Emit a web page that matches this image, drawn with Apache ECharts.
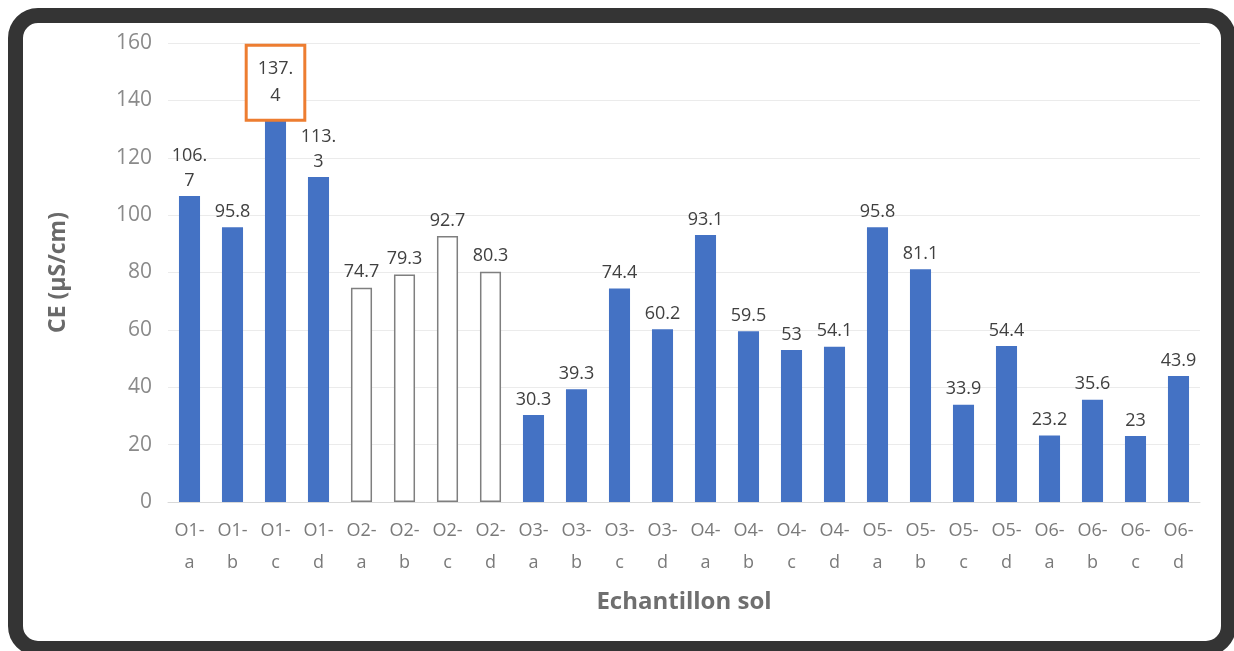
<!DOCTYPE html>
<html>
<head>
<meta charset="utf-8">
<script src="https://cdn.jsdelivr.net/npm/echarts@6/dist/echarts.min.js"></script>
<style>
  html, body { margin: 0; padding: 0; background: #fff; overflow: hidden; }
  #main { position: absolute; left: 0; top: 0; width: 1234px; height: 651px; }
  .frame {
    position: absolute; left: 8px; top: 8px; width: 1228px; height: 648px;
    box-sizing: border-box; border: 15px solid #343434; border-radius: 30px;
    pointer-events: none;
  }
</style>
</head>
<body>
<div id="main"></div>
<div class="frame"></div>
<script>
// samples
const categories = [
  'O1-a', 'O1-b', 'O1-c', 'O1-d', 'O2-a', 'O2-b', 'O2-c', 'O2-d',
  'O3-a', 'O3-b', 'O3-c', 'O3-d', 'O4-a', 'O4-b', 'O4-c', 'O4-d',
  'O5-a', 'O5-b', 'O5-c', 'O5-d', 'O6-a', 'O6-b', 'O6-c', 'O6-d'
];
// CE values (µS/cm)
const ceValues = [
  106.7, 95.8, 137.4, 113.3, 74.7, 79.3, 92.7, 80.3,
  30.3, 39.3, 74.4, 60.2, 93.1, 59.5, 53, 54.1,
  95.8, 81.1, 33.9, 54.4, 23.2, 35.6, 23, 43.9
];
const hollowIdx = [4, 5, 6, 7];   // O2 bars drawn empty
const boxedIdx = [2];             // label framed in orange
const yTicks = [0, 20, 40, 60, 80, 100, 120, 140, 160];

const font = "'Open Sans', 'Noto Sans', sans-serif";

const wrapLabel = (v) => {
  let s = String(v);
  return s.length > 4 ? s.slice(0, 4) + '\n' + s.slice(4) : s;
};

const data = ceValues.map((v, i) => {
  let item = { value: v };
  if (hollowIdx.includes(i)) {
    item.itemStyle = { color: '#ffffff', borderColor: '#7f7f7f', borderWidth: 1.5 };
  }
  if (boxedIdx.includes(i)) {
    item.label = {
      backgroundColor: '#ffffff',
      borderColor: '#ed7d31',
      borderWidth: 3,
      padding: [9, 10, 9, 10],
      lineHeight: 27,
      offset: [0, 14]
    };
  }
  return item;
});

const chart = echarts.init(document.getElementById('main'));
chart.setOption({
  animation: false,
  backgroundColor: '#ffffff',
  grid: { left: 168, right: 34, top: 43, bottom: 149 },
  xAxis: {
    type: 'category',
    data: categories,
    name: 'Echantillon sol',
    nameLocation: 'middle',
    nameGap: 88,
    nameTextStyle: { color: '#6f6f6f', fontSize: 24, fontWeight: 'bold', fontFamily: font },
    axisLine: { lineStyle: { color: '#d9d9d9' } },
    axisTick: { show: false },
    axisLabel: {
      color: '#7a7a7a',
      fontSize: 18,
      fontFamily: font,
      lineHeight: 32,
      margin: 13,
      interval: 0,
      formatter: (s) => s.replace('-', '-\n')
    }
  },
  yAxis: {
    type: 'value',
    min: yTicks[0],
    max: yTicks[yTicks.length - 1],
    interval: 20,
    name: 'CE (µS/cm)',
    nameLocation: 'middle',
    nameGap: 98,
    nameTextStyle: { color: '#6a6a6a', fontSize: 23, fontWeight: 'bold', fontFamily: font },
    axisLine: { show: false },
    axisTick: { show: false },
    axisLabel: { color: '#8a8a8a', fontSize: 21, fontFamily: font, margin: 16 },
    splitLine: { lineStyle: { color: '#ebebeb' } }
  },
  series: [{
    type: 'bar',
    data: data,
    barWidth: '49%',
    itemStyle: { color: '#4472c4' },
    label: {
      show: true,
      position: 'top',
      distance: 3,
      color: '#404040',
      fontSize: 18,
      lineHeight: 25,
      fontFamily: font,
      formatter: (p) => wrapLabel(p.value)
    }
  }]
});
</script>
</body>
</html>
